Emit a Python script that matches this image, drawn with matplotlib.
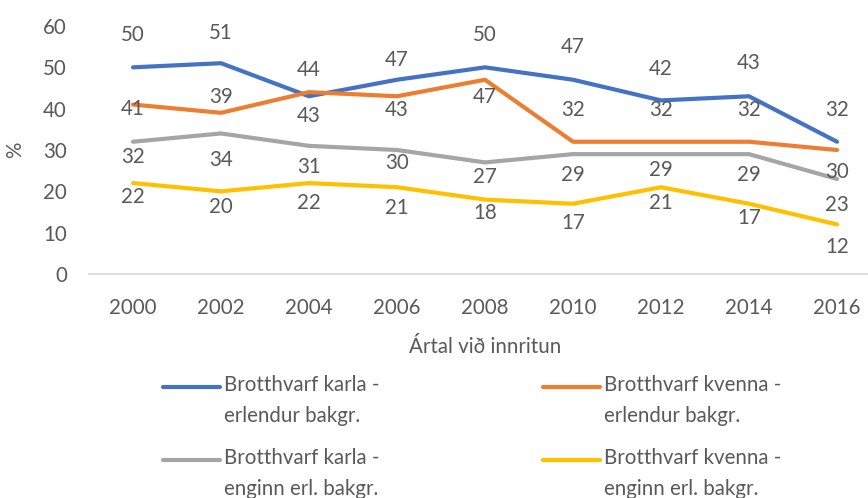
import matplotlib
matplotlib.use('Agg')
import matplotlib.pyplot as plt
from matplotlib.lines import Line2D

plt.rcParams['font.family'] = ['Lato', 'DejaVu Sans']

# data
years = ['2000', '2002', '2004', '2006', '2008', '2010', '2012', '2014', '2016']
karla_erl = [50, 51, 43, 47, 50, 47, 42, 43, 32]
kvenna_erl = [41, 39, 44, 43, 47, 32, 32, 32, 30]
karla_enginn = [32, 34, 31, 30, 27, 29, 29, 29, 23]
kvenna_enginn = [22, 20, 22, 21, 18, 17, 21, 17, 12]

labels = ['Brotthvarf karla -\nerlendur bakgr.',
          'Brotthvarf kvenna -\nerlendur bakgr.',
          'Brotthvarf karla -\nenginn erl. bakgr.',
          'Brotthvarf kvenna -\nenginn erl. bakgr.']

colors = ['#4472C4', '#ED7D31', '#A5A5A5', '#FFC000']
txt_color = '#595959'
fs = 14.8

# label offsets in pixels (positive = up), as placed in the original
offsets = [
    [32, 30, -20, 20, 32, 33, 31, 33, 32],
    [-4, 16, 22, -14, -17, 32, 32, 32, -22],
    [-15, -27, -21, -13, -15, -21, -16, -21, -26],
    [-14, -16, -20, -21, -13, -19, -16, -14, -23],
]

fig = plt.figure(figsize=(8.68, 4.98), dpi=100)
ax = fig.add_axes([89 / 868, 224 / 498, 792 / 868, 248 / 498])

series = [karla_erl, kvenna_erl, karla_enginn, kvenna_enginn]
x = list(range(len(years)))
for vals, col, offs in zip(series, colors, offsets):
    ax.plot(x, vals, color=col, linewidth=3, solid_capstyle='round', solid_joinstyle='round')
    for xi, v, o in zip(x, vals, offs):
        ax.annotate(str(v), xy=(xi, v), xytext=(0, o), textcoords='offset pixels',
                    ha='center', va='center', fontsize=fs, color=txt_color)

ax.set_xlim(-0.5, len(years) - 0.5)
ax.set_ylim(0, 60)
ax.set_yticks(range(0, 61, 10))
ax.set_xticks(x)
ax.set_xticklabels(years)
ax.tick_params(axis='both', length=0, labelsize=fs, labelcolor=txt_color)
ax.tick_params(axis='y', pad=16)
ax.tick_params(axis='x', pad=17)
for s in ['top', 'right', 'left']:
    ax.spines[s].set_visible(False)
ax.spines['bottom'].set_color('#D9D9D9')
ax.spines['bottom'].set_linewidth(1.2)

ax.set_xlabel('Ártal við innritun', fontsize=fs, color=txt_color, labelpad=14)
ax.set_ylabel('%', fontsize=fs, color=txt_color, labelpad=13)

# legend, drawn by hand so the line sits on the first text row
leg_pos = [(163, 387), (543, 387), (163, 460), (543, 460)]
for (px, py), col, lab in zip(leg_pos, colors, labels):
    fy = 1 - py / 498
    fig.add_artist(Line2D([px / 868, (px + 57) / 868], [fy, fy], color=col,
                          linewidth=3, solid_capstyle='round'))
    fig.text((px + 61) / 868, 1 - (py - 12) / 498, lab, fontsize=fs, color=txt_color,
             ha='left', va='top', linespacing=1.7,
             transform=fig.transFigure)

fig.savefig('out.png', dpi=100)
